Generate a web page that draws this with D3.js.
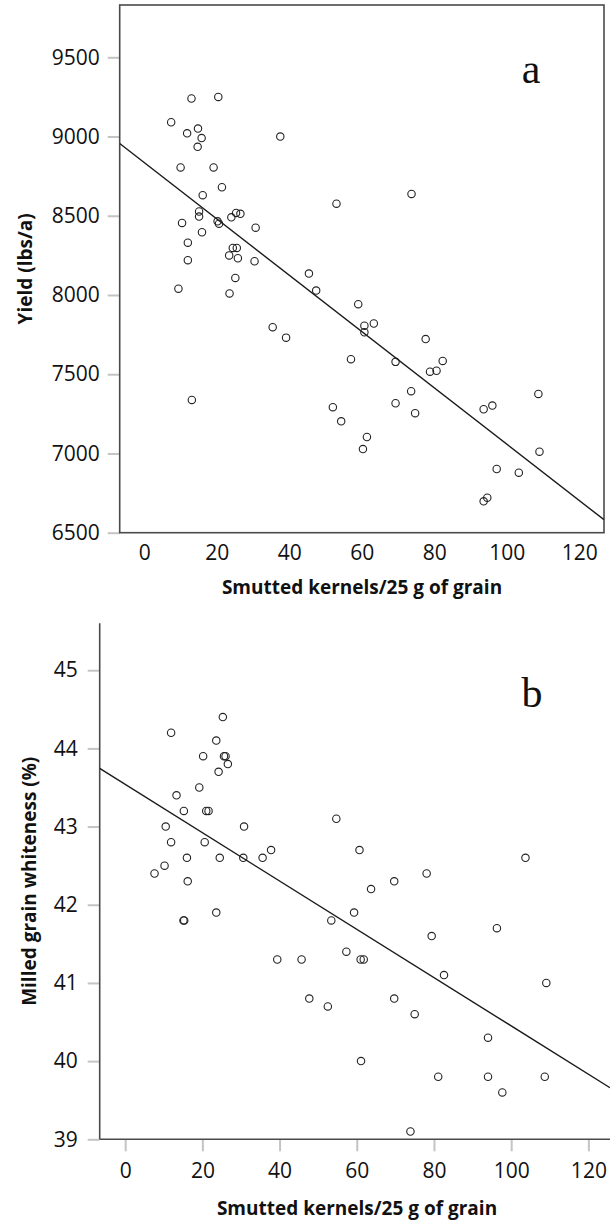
<!DOCTYPE html>
<html>
<head>
<meta charset="utf-8">
<script src="https://cdn.jsdelivr.net/npm/d3@7"></script>
<style>
  body { margin: 0; background: #fff; }
  svg { display: block; }
</style>
</head>
<body>
<svg id="chart"></svg>
<script>
// panel a: smutted kernels vs yield
const smuttedA = [13, 20.4, 7.4, 14.8, 11.8, 15.8, 14.7, 37.5, 10, 19.1, 21.4, 16.1, 53, 73.7, 15.1, 15.1,
    10.4, 20.2, 20.6, 24, 25.3, 26.5, 30.7, 15.9, 12, 24.4, 25.5, 23.4, 25.8, 12, 30.4, 25.1, 45.4, 9.4,
    23.5, 47.4, 59, 35.4, 39.1, 60.7, 60.7, 63.3, 77.6, 57, 69.3, 78.8, 80.6, 82.3, 13.1, 73.6, 69.3, 74.7,
    52, 54.3, 61.4, 60.3, 93.6, 96, 108.7, 109, 97.2, 103.3, 93.6, 94.6];
const yieldA = [9240, 9250, 9090, 9050, 9020, 8990, 8935, 9000, 8805, 8805, 8680, 8630, 8576, 8638, 8527, 8495,
    8455, 8465, 8450, 8490, 8518, 8512, 8425, 8396, 8330, 8297, 8297, 8250, 8232, 8220, 8213, 8108, 8135, 8040,
    8010, 8028, 7942, 7797, 7731, 7806, 7765, 7820, 7722, 7595, 7578, 7516, 7522, 7584, 7338, 7393, 7317, 7254,
    7292, 7203, 7104, 7028, 7279, 7302, 7376, 7011, 6902, 6879, 6698, 6721];

// panel b: smutted kernels vs milled grain whiteness
const smuttedB = [25.3, 11.9, 23.6, 20.2, 25.6, 26, 26.6, 24.2, 19.2, 13.3, 15.2, 21, 21.6, 10.5, 30.8, 54.7,
    11.9, 20.6, 37.8, 60.7, 16, 24.5, 30.6, 35.6, 103.7, 10.2, 7.6, 78.1, 16.2, 69.7, 63.7, 23.6, 59.3, 15.1,
    15.3, 53.4, 96.3, 79.4, 57.3, 39.4, 45.7, 61, 61.8, 82.6, 109.1, 47.7, 69.7, 52.5, 75, 94, 61.1, 81.1,
    94, 108.7, 97.7, 73.9];
const whitenessB = [44.4, 44.2, 44.1, 43.9, 43.9, 43.9, 43.8, 43.7, 43.5, 43.4, 43.2, 43.2, 43.2, 43.0, 43.0, 43.1,
    42.8, 42.8, 42.7, 42.7, 42.6, 42.6, 42.6, 42.6, 42.6, 42.5, 42.4, 42.4, 42.3, 42.3, 42.2, 41.9, 41.9, 41.8,
    41.8, 41.8, 41.7, 41.6, 41.4, 41.3, 41.3, 41.3, 41.3, 41.1, 41.0, 40.8, 40.8, 40.7, 40.6, 40.3, 40.0, 39.8,
    39.8, 39.8, 39.6, 39.1];

// fitted lines [intercept, slope]
const fitA = [8835, -17.77];
const fitB = [43.54, -0.0309];

const xTicks = [0, 20, 40, 60, 80, 100, 120];
const yieldTicks = [6500, 7000, 7500, 8000, 8500, 9000, 9500];
const whiteTicks = [39, 40, 41, 42, 43, 44, 45];

const W = 610, H = 1221;
const svg = d3.select('#chart').attr('width', W).attr('height', H);

const tickFont = '"Open Sans", sans-serif';

function drawPanel(cfg) {
    const g = svg.append('g');

    const xscale = d3.scaleLinear().domain(cfg.xdomain).range([cfg.left, cfg.right]);
    const yscale = d3.scaleLinear().domain(cfg.ydomain).range([cfg.bottom, cfg.top]);

    const clipId = 'clip-' + cfg.name;
    g.append('clipPath').attr('id', clipId)
        .append('rect')
        .attr('x', cfg.left).attr('y', cfg.top)
        .attr('width', cfg.right - cfg.left).attr('height', cfg.bottom - cfg.top);

    // y axis
    const yaxis = d3.axisLeft(yscale)
        .tickValues(cfg.yticks)
        .tickSize(12)
        .tickPadding(cfg.ypad)
        .tickFormat(d3.format('d'));
    const yg = g.append('g')
        .attr('transform', `translate(${cfg.left}, 0)`)
        .call(yaxis);

    // x axis
    const xaxis = d3.axisBottom(xscale)
        .tickValues(xTicks)
        .tickSize(cfg.xtick)
        .tickPadding(12);
    const xg = g.append('g')
        .attr('transform', `translate(0, ${cfg.bottom})`)
        .call(xaxis);

    [yg, xg].forEach(a => {
        a.select('.domain').remove();
        a.selectAll('.tick line').attr('stroke', '#c4c4c4').attr('stroke-width', 2);
        a.selectAll('.tick text')
            .style('font-family', tickFont)
            .style('font-size', '21px')
            .attr('fill', '#111');
    });

    // frame / axis lines
    const line_color = '#4a4a4a';
    if (cfg.frame) {
        g.append('rect')
            .attr('x', cfg.left).attr('y', cfg.top)
            .attr('width', cfg.right - cfg.left).attr('height', cfg.bottom - cfg.top)
            .attr('fill', 'none').attr('stroke', line_color).attr('stroke-width', 1.6);
    } else {
        g.append('line')
            .attr('x1', cfg.left).attr('x2', cfg.left)
            .attr('y1', cfg.top).attr('y2', cfg.bottom)
            .attr('stroke', line_color).attr('stroke-width', 1.6);
        g.append('line')
            .attr('x1', cfg.left).attr('x2', W)
            .attr('y1', cfg.bottom).attr('y2', cfg.bottom)
            .attr('stroke', line_color).attr('stroke-width', 1.6);
    }

    // regression line
    const x0 = cfg.xdomain[0], x1 = cfg.xdomain[1];
    g.append('line')
        .attr('clip-path', `url(#${clipId})`)
        .attr('x1', xscale(x0)).attr('y1', yscale(cfg.fit[0] + cfg.fit[1] * x0))
        .attr('x2', xscale(x1)).attr('y2', yscale(cfg.fit[0] + cfg.fit[1] * x1))
        .attr('stroke', '#1a1a1a').attr('stroke-width', 1.4);

    // points
    const pts = cfg.xs.map((x, i) => ({x: x, y: cfg.ys[i]}));
    g.selectAll('circle.pt')
        .data(pts)
        .enter()
        .append('circle')
        .attr('class', 'pt')
        .attr('cx', d => xscale(d.x))
        .attr('cy', d => yscale(d.y))
        .attr('r', 3.7)
        .attr('fill', 'none')
        .attr('stroke', '#222')
        .attr('stroke-width', 1.1);

    // axis titles
    g.append('text')
        .attr('x', cfg.xtitle[1])
        .attr('y', cfg.xtitle[2])
        .attr('text-anchor', 'middle')
        .style('font-family', tickFont)
        .style('font-weight', 'bold')
        .style('font-size', '19px')
        .attr('fill', '#111')
        .text(cfg.xtitle[0]);

    g.append('text')
        .attr('transform', 'rotate(-90)')
        .attr('x', -(cfg.top + cfg.bottom) / 2)
        .attr('y', cfg.ytitleX)
        .attr('dy', '0.35em')
        .attr('text-anchor', 'middle')
        .style('font-family', tickFont)
        .style('font-weight', 'bold')
        .style('font-size', '19px')
        .attr('fill', '#111')
        .text(cfg.ytitle);

    // panel letter
    g.append('text')
        .attr('x', cfg.letter[1])
        .attr('y', cfg.letter[2])
        .attr('text-anchor', 'middle')
        .style('font-family', '"Liberation Serif", "DejaVu Serif", serif')
        .style('font-size', '42px')
        .attr('fill', '#111')
        .text(cfg.letter[0]);
}

drawPanel({
    name: 'a',
    left: 119.7, right: 604, top: 5, bottom: 532.7,
    xdomain: [-6.8, 126.8], ydomain: [6500, 9830],
    yticks: yieldTicks, ypad: 8, xtick: 0,
    xs: smuttedA, ys: yieldA, fit: fitA,
    frame: true,
    xtitle: ['Smutted kernels/25 g of grain', 362, 594],
    ytitle: 'Yield (lbs/a)', ytitleX: 25,
    letter: ['a', 531, 83]
});

drawPanel({
    name: 'b',
    left: 99.7, right: 610, top: 623.3, bottom: 1139.3,
    xdomain: [-6.6, 125.6], ydomain: [39, 45.6],
    yticks: whiteTicks, ypad: 10, xtick: 12,
    xs: smuttedB, ys: whitenessB, fit: fitB,
    frame: false,
    xtitle: ['Smutted kernels/25 g of grain', 357, 1215],
    ytitle: 'Milled grain whiteness (%)', ytitleX: 29,
    letter: ['b', 532, 707]
});
</script>
</body>
</html>
